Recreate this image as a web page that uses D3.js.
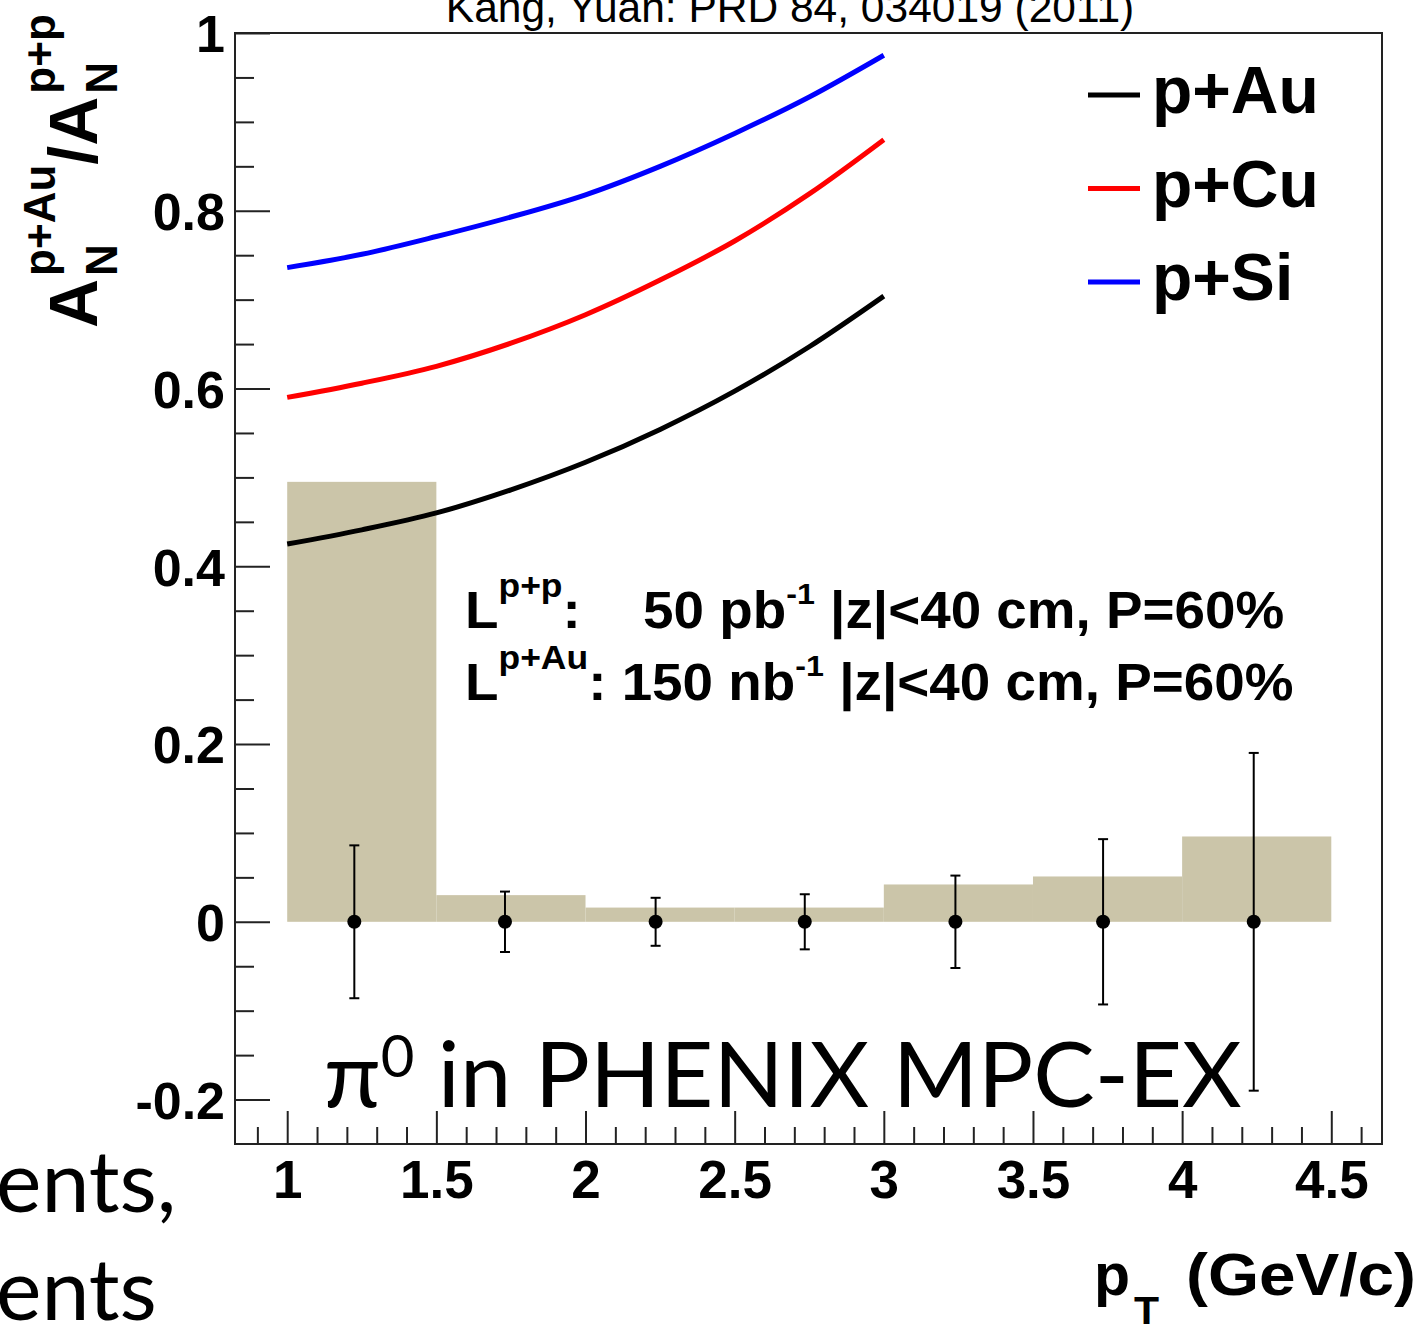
<!DOCTYPE html>
<html>
<head>
<meta charset="utf-8">
<script src="https://cdn.jsdelivr.net/npm/d3@7"></script>
<style>
  body { margin: 0; background: #fff; }
  svg { display: block; }
  .axis text { font-family: "Liberation Sans", Arial, sans-serif; font-weight: bold; fill: #000; }
  .axis line { stroke: #222; stroke-width: 2px; }
  .axis path { display: none; }
  .bold { font-family: "Liberation Sans", Arial, sans-serif; font-weight: bold; fill: #000; }
  .slide { font-family: Lato, "Open Sans", sans-serif; fill: #000; }
</style>
</head>
<body>
<script>
// histogram bins (systematic band) and data points
var binEdges = [1, 1.5, 2, 2.5, 3, 3.5, 4, 4.5];
var sysHeights = [0.495, 0.030, 0.016, 0.016, 0.042, 0.051, 0.096];
var ptCenters = [1.225, 1.73, 2.235, 2.735, 3.24, 3.735, 4.24];
var ratioValues = [0, 0, 0, 0, 0, 0, 0];
var statErrors = [0.086, 0.034, 0.027, 0.031, 0.052, 0.093, 0.19];

// theory curves (Kang, Yuan)
var curvePt = [1, 1.25, 1.5, 1.75, 2, 2.25, 2.5, 2.75, 3];
var pAu = [0.425, 0.441, 0.460, 0.486, 0.517, 0.554, 0.597, 0.647, 0.704];
var pCu = [0.590, 0.606, 0.625, 0.651, 0.683, 0.722, 0.766, 0.819, 0.880];
var pSi = [0.736, 0.751, 0.771, 0.793, 0.818, 0.850, 0.887, 0.928, 0.975];
var seriesNames = ["p+Au", "p+Cu", "p+Si"];
var seriesColors = ["#000000", "#ff0000", "#0000ff"];

var xMajor = [1, 1.5, 2, 2.5, 3, 3.5, 4, 4.5];
var yMajor = [-0.2, 0, 0.2, 0.4, 0.6, 0.8, 1];

var W = 1425, H = 1324;
var frame = {left: 235, top: 33, right: 1382, bottom: 1144};

var svg = d3.select("body").append("svg")
  .attr("width", W)
  .attr("height", H);

var x = d3.scaleLinear().domain([0.825, 4.67]).range([frame.left, frame.right]);
var y = d3.scaleLinear().domain([-0.25, 1]).range([frame.bottom, frame.top]);

// plain hyphen minus, like the original
var fmt = function(d) { return String(+d.toFixed(2)); };

// minor tick values
var xMinor = d3.range(9, 47).map(function(d) { return d / 10; })
  .filter(function(d) { return xMajor.indexOf(d) < 0; });
var yMinor = d3.range(-4, 20).map(function(d) { return d / 20; })
  .filter(function(d) { return Math.abs(d * 10 - Math.round(d * 5) * 2) > 1e-6; });

// systematic boxes
svg.selectAll(".sys")
  .data(sysHeights)
  .enter().append("rect")
  .attr("class", "sys")
  .attr("x", function(d, i) { return x(binEdges[i]); })
  .attr("width", function(d, i) { return x(binEdges[i + 1]) - x(binEdges[i]); })
  .attr("y", function(d) { return y(d); })
  .attr("height", function(d) { return y(0) - y(d); })
  .attr("fill", "#cbc5a9");

// curves
var line = d3.line()
  .x(function(d) { return x(d[0]); })
  .y(function(d) { return y(d[1]); })
  .curve(d3.curveMonotoneX);

[pAu, pCu, pSi].forEach(function(vals, k) {
  svg.append("path")
    .datum(curvePt.map(function(p, i) { return [p, vals[i]]; }))
    .attr("d", line)
    .attr("fill", "none")
    .attr("stroke", seriesColors[k])
    .attr("stroke-width", 5);
});

// error bars
var pts = svg.append("g");
ptCenters.forEach(function(p, i) {
  var lo = y(ratioValues[i] - statErrors[i]), hi = y(ratioValues[i] + statErrors[i]);
  pts.append("line").attr("x1", x(p)).attr("x2", x(p)).attr("y1", lo).attr("y2", hi)
    .attr("stroke", "#000").attr("stroke-width", 2);
  [lo, hi].forEach(function(yy) {
    pts.append("line").attr("x1", x(p) - 5).attr("x2", x(p) + 5).attr("y1", yy).attr("y2", yy)
      .attr("stroke", "#000").attr("stroke-width", 2);
  });
});
pts.selectAll("circle")
  .data(ptCenters)
  .enter().append("circle")
  .attr("cx", function(d) { return x(d); })
  .attr("cy", function(d, i) { return y(ratioValues[i]); })
  .attr("r", 7)
  .attr("fill", "#000");

// axes, ticks drawn inside the frame
svg.append("g").attr("class", "axis")
  .attr("transform", "translate(" + frame.left + ",0)")
  .call(d3.axisLeft(y).tickValues(yMajor).tickSize(-35).tickPadding(10).tickFormat(fmt))
  .selectAll("text").style("font-size", "52px").attr("dy", "0.36em");

svg.append("g").attr("class", "axis")
  .attr("transform", "translate(" + frame.left + ",0)")
  .call(d3.axisLeft(y).tickValues(yMinor).tickSize(-19).tickFormat(""));

svg.append("g").attr("class", "axis")
  .attr("transform", "translate(0," + frame.bottom + ")")
  .call(d3.axisBottom(x).tickValues(xMajor).tickSize(-33).tickPadding(16).tickFormat(fmt))
  .selectAll("text").style("font-size", "53px");

svg.append("g").attr("class", "axis")
  .attr("transform", "translate(0," + frame.bottom + ")")
  .call(d3.axisBottom(x).tickValues(xMinor).tickSize(-17).tickFormat(""));

svg.append("rect")
  .attr("x", frame.left).attr("y", frame.top)
  .attr("width", frame.right - frame.left).attr("height", frame.bottom - frame.top)
  .attr("fill", "none").attr("stroke", "#222").attr("stroke-width", 2);

// title (cut by the top edge, as in the original)
svg.append("text")
  .attr("x", 790).attr("y", 22)
  .attr("text-anchor", "middle")
  .style("font-family", "'Liberation Sans', Arial, sans-serif")
  .style("font-size", "42.5px")
  .text("Kang, Yuan: PRD 84, 034019 (2011)");

// legend
var leg = svg.append("g");
seriesNames.forEach(function(name, i) {
  var yy = 95 + i * 93.5;
  leg.append("line").attr("x1", 1088).attr("x2", 1140).attr("y1", yy).attr("y2", yy)
    .attr("stroke", seriesColors[i]).attr("stroke-width", 5);
  leg.append("text").attr("class", "bold")
    .attr("x", 1152).attr("y", yy + 18)
    .style("font-size", "66px")
    .text(name);
});

// luminosity annotation
function supText(sel, parts) {
  parts.forEach(function(p) {
    sel.append("tspan")
      .attr("dy", p.dy || 0)
      .style("font-size", p.size + "px")
      .text(p.t);
  });
}
var ann = svg.append("g").attr("transform", "translate(465,0) scale(1.075,1)");
var l1 = ann.append("text").attr("class", "bold").attr("x", 0).attr("y", 628);
supText(l1, [{t: "L", size: 51}, {t: "p+p", size: 33, dy: -31}, {t: ":", size: 51, dy: 31}]);
var l1b = ann.append("text").attr("class", "bold").attr("x", (643 - 465) / 1.075).attr("y", 628);
supText(l1b, [{t: "50 pb", size: 51}, {t: "-1", size: 30, dy: -24}, {t: " |z|<40 cm, P=60%", size: 51, dy: 24}]);
var l2 = ann.append("text").attr("class", "bold").attr("x", 0).attr("y", 700);
supText(l2, [{t: "L", size: 51}, {t: "p+Au", size: 33, dy: -31}, {t: ": 150 nb", size: 51, dy: 31},
  {t: "-1", size: 30, dy: -24}, {t: " |z|<40 cm, P=60%", size: 51, dy: 24}]);

// y axis title, rotated
var yt = svg.append("g").attr("transform", "translate(97,328) rotate(-90)");
function yPart(g, txt, xx, yy, size) {
  var t = g.append("text").attr("class", "bold").attr("x", xx).attr("y", yy)
    .style("font-size", size + "px").text(txt);
  return t.node().getComputedTextLength();
}
var cx = 0;
var wA = yPart(yt, "A", cx, 0, 68);
var wN = yPart(yt, "N", cx + wA + 3, 20, 44);
var wS = yPart(yt, "p+Au", cx + wA + 3, -42, 44);
cx += wA + 3 + Math.max(wN, wS);
cx += yPart(yt, "/", cx, 0, 68);
var wA2 = yPart(yt, "A", cx, 0, 68);
yPart(yt, "N", cx + wA2 + 3, 20, 44);
yPart(yt, "p+p", cx + wA2 + 3, -42, 44);

// x axis title
svg.append("text").attr("class", "bold")
  .attr("x", 1094).attr("y", 1295)
  .style("font-size", "59px").text("p");
svg.append("text").attr("class", "bold")
  .attr("x", 1134).attr("y", 1325)
  .style("font-size", "41px").text("T");
svg.append("text").attr("class", "bold")
  .attr("x", 1186).attr("y", 1295)
  .attr("textLength", 230).attr("lengthAdjust", "spacingAndGlyphs")
  .style("font-size", "59px").text("(GeV/c)");

// slide text
var pi = svg.append("text").attr("class", "slide").attr("x", 324).attr("y", 1107);
supText(pi, [{t: "\u03c0", size: 92}, {t: "0", size: 58, dy: -30}, {t: " in PHENIX MPC-EX", size: 92, dy: 30}]);

svg.append("text").attr("class", "slide").attr("x", -4).attr("y", 1212)
  .style("font-size", "86px").text("ents,");
svg.append("text").attr("class", "slide").attr("x", -4).attr("y", 1320)
  .style("font-size", "86px").text("ents");
</script>
</body>
</html>
